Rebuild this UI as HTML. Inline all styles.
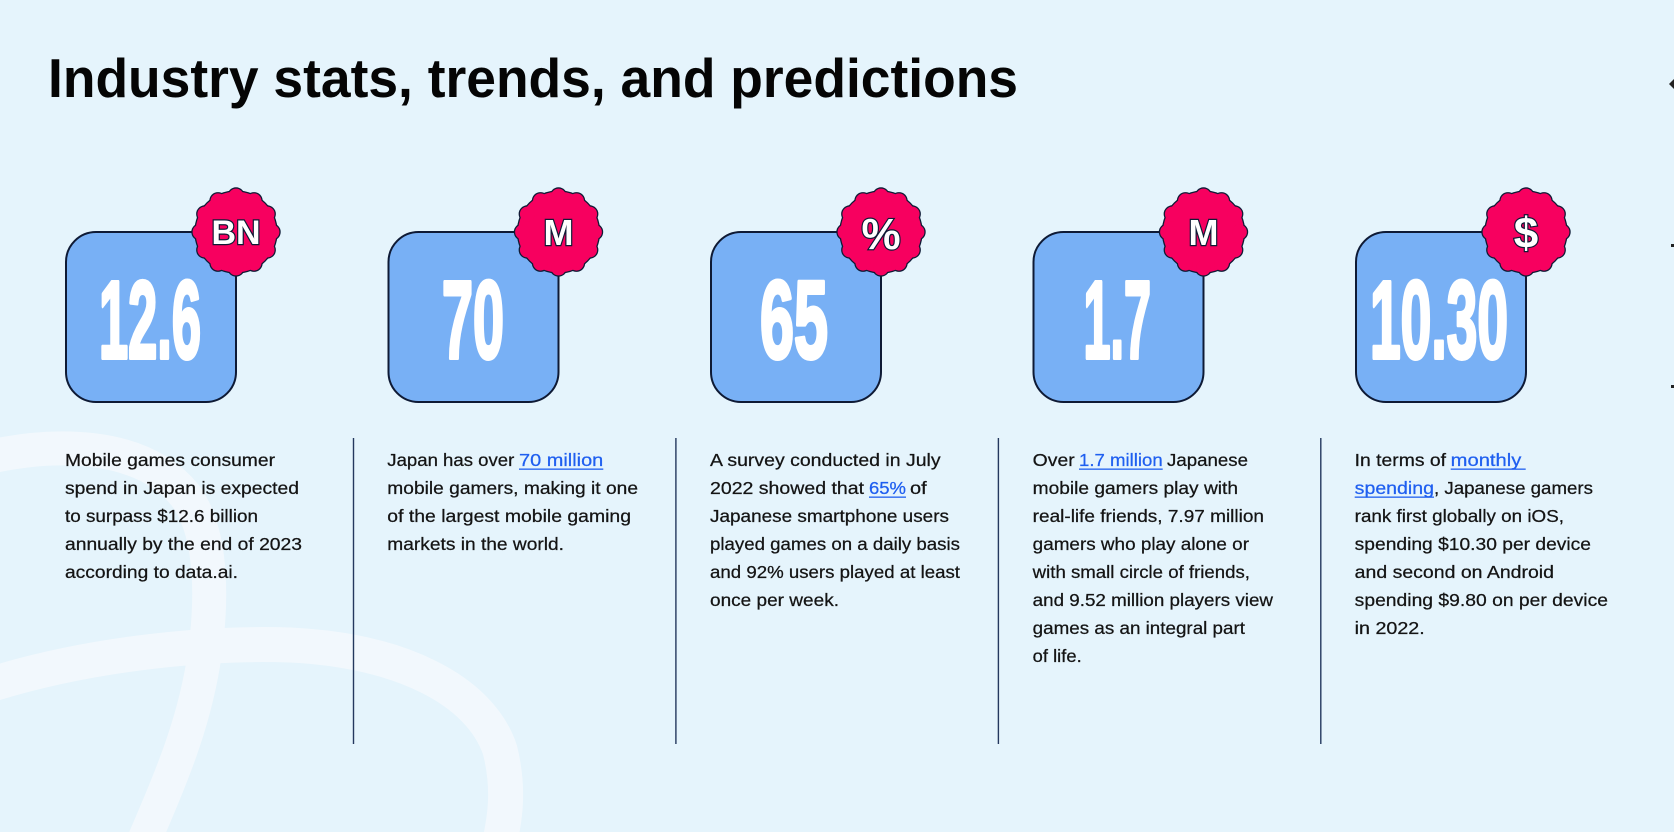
<!DOCTYPE html>
<html>
<head>
<meta charset="utf-8">
<style>
  html,body{margin:0;padding:0;background:#e5f4fc;}
  svg{display:block;}
  .b{font-family:"Liberation Sans",sans-serif;font-size:17.5px;fill:#141414;stroke:#141414;stroke-width:0.25px;}
  .lk{fill:#1f5ff0;stroke:#1f5ff0;}
  .num{font-family:"Liberation Sans",sans-serif;font-weight:700;font-size:110px;fill:#ffffff;stroke:#ffffff;stroke-width:4px;stroke-linejoin:round;}
  .bt{font-family:"Liberation Sans",sans-serif;font-weight:700;fill:#ffffff;stroke:#0e1a35;stroke-width:2.4px;paint-order:stroke;text-anchor:middle;}
</style>
</head>
<body>
<svg width="1674" height="832" viewBox="0 0 1674 832" xmlns="http://www.w3.org/2000/svg">
  <defs>
    <g id="badge">
      <g fill="#0e1a35">
        <circle cx="0" cy="0" r="41.7"/>
        <circle cx="36" cy="0" r="8.7"/>
        <circle cx="31.18" cy="18" r="8.7"/>
        <circle cx="18" cy="31.18" r="8.7"/>
        <circle cx="0" cy="36" r="8.7"/>
        <circle cx="-18" cy="31.18" r="8.7"/>
        <circle cx="-31.18" cy="18" r="8.7"/>
        <circle cx="-36" cy="0" r="8.7"/>
        <circle cx="-31.18" cy="-18" r="8.7"/>
        <circle cx="-18" cy="-31.18" r="8.7"/>
        <circle cx="0" cy="-36" r="8.7"/>
        <circle cx="18" cy="-31.18" r="8.7"/>
        <circle cx="31.18" cy="-18" r="8.7"/>
      </g>
      <g fill="#f7005f">
        <circle cx="0" cy="0" r="40.4"/>
        <circle cx="36" cy="0" r="7.4"/>
        <circle cx="31.18" cy="18" r="7.4"/>
        <circle cx="18" cy="31.18" r="7.4"/>
        <circle cx="0" cy="36" r="7.4"/>
        <circle cx="-18" cy="31.18" r="7.4"/>
        <circle cx="-31.18" cy="18" r="7.4"/>
        <circle cx="-36" cy="0" r="7.4"/>
        <circle cx="-31.18" cy="-18" r="7.4"/>
        <circle cx="-18" cy="-31.18" r="7.4"/>
        <circle cx="0" cy="-36" r="7.4"/>
        <circle cx="18" cy="-31.18" r="7.4"/>
        <circle cx="31.18" cy="-18" r="7.4"/>
      </g>
    </g>
  </defs>

  <rect x="0" y="0" width="1674" height="832" fill="#e5f4fc"/>

  <!-- background arcs -->
  <path d="M -20 459 C 50 442, 140 440, 185 495 C 215 535, 212 610, 203 665 C 192 730, 170 780, 140 850" fill="none" stroke="#f2f8fd" stroke-width="34"/>
  <path d="M -20 688 C 80 655, 200 642, 290 645 C 400 650, 480 690, 500 750 C 510 790, 505 820, 498 850" fill="none" stroke="#f2f8fd" stroke-width="35"/>

  <!-- title -->
  <text x="48" y="97" font-family="Liberation Sans, sans-serif" font-weight="700" font-size="55" fill="#050505" textLength="970" lengthAdjust="spacingAndGlyphs">Industry stats, trends, and predictions</text>

  <!-- right edge marks -->
  <path d="M1674 79 L1669 84 L1674 89 Z" fill="#222"/>
  <rect x="1671" y="244" width="3" height="3" fill="#222"/>
  <rect x="1671" y="385" width="3" height="3" fill="#222"/>

  <!-- boxes -->
  <rect x="66" y="232" width="170" height="170" rx="30" fill="#78b0f5" stroke="#0e1a35" stroke-width="2"/>
  <rect x="388.5" y="232" width="170" height="170" rx="30" fill="#78b0f5" stroke="#0e1a35" stroke-width="2"/>
  <rect x="711" y="232" width="170" height="170" rx="30" fill="#78b0f5" stroke="#0e1a35" stroke-width="2"/>
  <rect x="1033.5" y="232" width="170" height="170" rx="30" fill="#78b0f5" stroke="#0e1a35" stroke-width="2"/>
  <rect x="1356" y="232" width="170" height="170" rx="30" fill="#78b0f5" stroke="#0e1a35" stroke-width="2"/>

  <!-- big numbers -->
  <text class="num" x="99" y="358" textLength="102" lengthAdjust="spacingAndGlyphs">12.6</text>
  <text class="num" x="442" y="358" textLength="62" lengthAdjust="spacingAndGlyphs">70</text>
  <text class="num" x="760" y="358" textLength="68" lengthAdjust="spacingAndGlyphs">65</text>
  <text class="num" x="1083.5" y="358" textLength="67.5" lengthAdjust="spacingAndGlyphs">1.7</text>
  <text class="num" x="1370" y="358" textLength="138" lengthAdjust="spacingAndGlyphs">10.30</text>

  <!-- badges -->
  <use href="#badge" x="236" y="232"/>
  <use href="#badge" x="558.5" y="232"/>
  <use href="#badge" x="881" y="232"/>
  <use href="#badge" x="1203.5" y="232"/>
  <use href="#badge" x="1526" y="232"/>

  <text class="bt" x="236" y="244" font-size="34">BN</text>
  <text class="bt" x="558.5" y="245" font-size="36">M</text>
  <text class="bt" x="881" y="249" font-size="44">%</text>
  <text class="bt" x="1203.5" y="245" font-size="36">M</text>
  <text class="bt" x="1526" y="248" font-size="44">$</text>

  <!-- dividers -->
  <rect x="352.8" y="438" width="1.4" height="306" fill="#24385e"/>
  <rect x="675.2" y="438" width="1.4" height="306" fill="#24385e"/>
  <rect x="997.7" y="438" width="1.4" height="306" fill="#24385e"/>
  <rect x="1320.1" y="438" width="1.4" height="306" fill="#24385e"/>

  <!-- column 1 -->
  <text class="b" x="65" y="466" textLength="210" lengthAdjust="spacingAndGlyphs">Mobile games consumer</text>
  <text class="b" x="65" y="494" textLength="234" lengthAdjust="spacingAndGlyphs">spend  in Japan is expected</text>
  <text class="b" x="65" y="522" textLength="193" lengthAdjust="spacingAndGlyphs">to surpass  $12.6 billion</text>
  <text class="b" x="65" y="550" textLength="237" lengthAdjust="spacingAndGlyphs">annually by the end of 2023</text>
  <text class="b" x="65" y="578" textLength="173" lengthAdjust="spacingAndGlyphs">according to data.ai.</text>

  <!-- column 2 -->
  <text class="b" x="387.3" y="466" textLength="127" lengthAdjust="spacingAndGlyphs">Japan has over</text>
  <text class="b lk" x="519" y="466" textLength="84.3" lengthAdjust="spacingAndGlyphs">70 million</text>
  <rect x="519" y="468.5" width="84.3" height="1.3" fill="#1f5ff0"/>
  <text class="b" x="387.3" y="494" textLength="250.7" lengthAdjust="spacingAndGlyphs">mobile gamers, making it one</text>
  <text class="b" x="387.3" y="522" textLength="243.7" lengthAdjust="spacingAndGlyphs">of the largest mobile gaming</text>
  <text class="b" x="387.3" y="550" textLength="176.7" lengthAdjust="spacingAndGlyphs">markets in the world.</text>

  <!-- column 3 -->
  <text class="b" x="710" y="466" textLength="230.6" lengthAdjust="spacingAndGlyphs">A survey conducted in July</text>
  <text class="b" x="710" y="494" textLength="154" lengthAdjust="spacingAndGlyphs">2022 showed that</text>
  <text class="b lk" x="869" y="494" textLength="37" lengthAdjust="spacingAndGlyphs">65%</text>
  <rect x="869" y="496.5" width="37" height="1.3" fill="#1f5ff0"/>
  <text class="b" x="910" y="494" textLength="16.7" lengthAdjust="spacingAndGlyphs">of</text>
  <text class="b" x="710" y="522" textLength="239" lengthAdjust="spacingAndGlyphs">Japanese smartphone users</text>
  <text class="b" x="710" y="550" textLength="250" lengthAdjust="spacingAndGlyphs">played games on a daily basis</text>
  <text class="b" x="710" y="578" textLength="250" lengthAdjust="spacingAndGlyphs">and 92% users played at least</text>
  <text class="b" x="710" y="606" textLength="129" lengthAdjust="spacingAndGlyphs">once per week.</text>

  <!-- column 4 -->
  <text class="b" x="1032.7" y="466" textLength="42" lengthAdjust="spacingAndGlyphs">Over</text>
  <text class="b lk" x="1079" y="466" textLength="83.7" lengthAdjust="spacingAndGlyphs">1.7 million</text>
  <rect x="1079" y="468.5" width="83.7" height="1.3" fill="#1f5ff0"/>
  <text class="b" x="1167" y="466" textLength="81" lengthAdjust="spacingAndGlyphs">Japanese</text>
  <text class="b" x="1032.7" y="494" textLength="205.3" lengthAdjust="spacingAndGlyphs">mobile gamers play with</text>
  <text class="b" x="1032.7" y="522" textLength="231.3" lengthAdjust="spacingAndGlyphs">real-life  friends, 7.97 million</text>
  <text class="b" x="1032.7" y="550" textLength="216.3" lengthAdjust="spacingAndGlyphs">gamers who play alone or</text>
  <text class="b" x="1032.7" y="578" textLength="217.3" lengthAdjust="spacingAndGlyphs">with small circle of friends,</text>
  <text class="b" x="1032.7" y="606" textLength="240.3" lengthAdjust="spacingAndGlyphs">and 9.52 million players view</text>
  <text class="b" x="1032.7" y="634" textLength="212.3" lengthAdjust="spacingAndGlyphs">games as an integral part</text>
  <text class="b" x="1032.7" y="662" textLength="49" lengthAdjust="spacingAndGlyphs">of life.</text>

  <!-- column 5 -->
  <text class="b" x="1354.7" y="466" textLength="91.3" lengthAdjust="spacingAndGlyphs">In terms of</text>
  <text class="b lk" x="1450.7" y="466" textLength="70.6" lengthAdjust="spacingAndGlyphs">monthly</text>
  <rect x="1450.7" y="468.5" width="75" height="1.3" fill="#1f5ff0"/>
  <text class="b lk" x="1354.7" y="494" textLength="79.3" lengthAdjust="spacingAndGlyphs">spending</text>
  <rect x="1354.7" y="496.5" width="79.3" height="1.3" fill="#1f5ff0"/>
  <text class="b" x="1434" y="494" textLength="159" lengthAdjust="spacingAndGlyphs">, Japanese gamers</text>
  <text class="b" x="1354.7" y="522" textLength="209.3" lengthAdjust="spacingAndGlyphs">rank first globally on iOS,</text>
  <text class="b" x="1354.7" y="550" textLength="236.3" lengthAdjust="spacingAndGlyphs">spending $10.30 per device</text>
  <text class="b" x="1354.7" y="578" textLength="199.3" lengthAdjust="spacingAndGlyphs">and second on Android</text>
  <text class="b" x="1354.7" y="606" textLength="253.3" lengthAdjust="spacingAndGlyphs">spending $9.80 on per device</text>
  <text class="b" x="1354.7" y="634" textLength="70" lengthAdjust="spacingAndGlyphs">in 2022.</text>
</svg>
</body>
</html>
